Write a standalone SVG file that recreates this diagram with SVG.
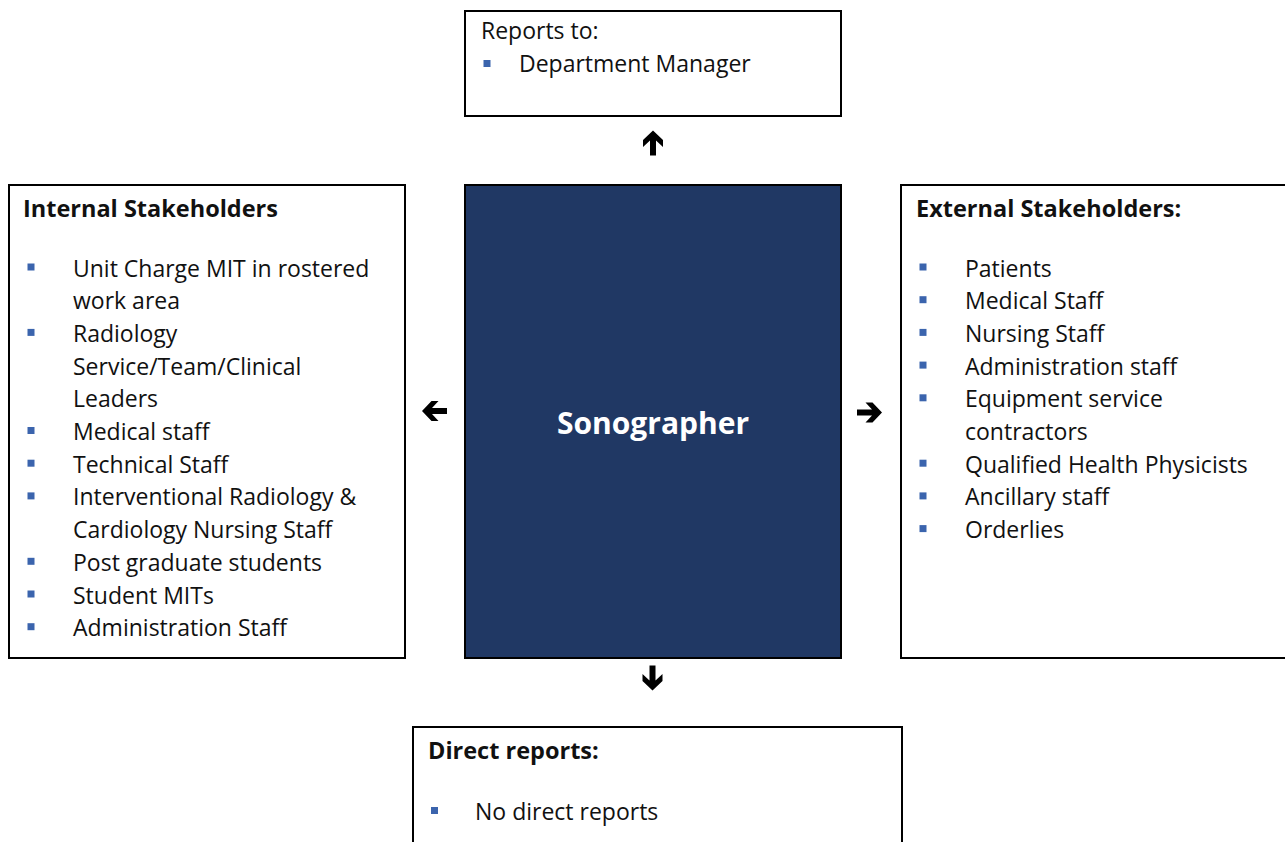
<svg xmlns="http://www.w3.org/2000/svg" width="1285" height="842" viewBox="0 0 1285 842">
  <defs>
    <style>
      .box { fill: #ffffff; stroke: #000000; stroke-width: 2; }
      .core { fill: #203864; stroke: #000000; stroke-width: 2; }
      .txt { font-family: "Open Sans", "Liberation Sans", sans-serif; font-size: 23px; fill: #111111; }
      .ttl { font-family: "Open Sans", "Liberation Sans", sans-serif; font-size: 23.5px; font-weight: bold; fill: #111111; }
      .role { font-family: "Open Sans", "Liberation Sans", sans-serif; font-size: 30px; font-weight: bold; fill: #ffffff; }
      .bul { fill: #3b64ad; }
      .arrow { fill: #000000; }
    </style>
    <!-- bold block arrow pointing right, centred on the origin -->
    <path id="arr" d="M-12.5,-3 H2.5 L-4,-10 H3 L12.5,0 L3,10 H-4 L2.5,3 H-12.5 Z"/>
  </defs>

  <rect width="1285" height="842" fill="#ffffff"/>

  <!-- Reports to -->
  <g id="reports-to">
    <rect class="box" x="465" y="11" width="376" height="105"/>
    <text class="txt" x="481" y="39">Reports to:</text>
    <rect class="bul" x="483.5" y="60" width="7" height="7"/>
    <text class="txt" x="519" y="72">Department Manager</text>
  </g>

  <!-- Internal stakeholders -->
  <g id="internal">
    <rect class="box" x="9" y="185" width="396" height="473"/>
    <text class="ttl" x="23" y="217">Internal Stakeholders</text>
    <g class="bul">
      <rect x="27.5" y="263.5" width="7" height="7"/>
      <rect x="27.5" y="328.9" width="7" height="7"/>
      <rect x="27.5" y="427" width="7" height="7"/>
      <rect x="27.5" y="459.7" width="7" height="7"/>
      <rect x="27.5" y="492.4" width="7" height="7"/>
      <rect x="27.5" y="557.8" width="7" height="7"/>
      <rect x="27.5" y="590.5" width="7" height="7"/>
      <rect x="27.5" y="623.2" width="7" height="7"/>
    </g>
    <text class="txt" x="73" y="276.5">Unit Charge MIT in rostered</text>
    <text class="txt" x="73" y="309.2">work area</text>
    <text class="txt" x="73" y="341.9">Radiology</text>
    <text class="txt" x="73" y="374.6">Service/Team/Clinical</text>
    <text class="txt" x="73" y="407.3">Leaders</text>
    <text class="txt" x="73" y="440">Medical staff</text>
    <text class="txt" x="73" y="472.7">Technical Staff</text>
    <text class="txt" x="73" y="505.4">Interventional Radiology &amp;</text>
    <text class="txt" x="73" y="538.1">Cardiology Nursing Staff</text>
    <text class="txt" x="73" y="570.8">Post graduate students</text>
    <text class="txt" x="73" y="603.5">Student MITs</text>
    <text class="txt" x="73" y="636.2">Administration Staff</text>
  </g>

  <!-- Role -->
  <g id="sonographer">
    <rect class="core" x="465" y="185" width="376" height="473"/>
    <text class="role" x="653" y="434" text-anchor="middle">Sonographer</text>
  </g>

  <!-- External stakeholders -->
  <g id="external">
    <rect class="box" x="901" y="185" width="400" height="473"/>
    <text class="ttl" x="916" y="217">External Stakeholders:</text>
    <g class="bul">
      <rect x="919.5" y="263.5" width="7" height="7"/>
      <rect x="919.5" y="296.2" width="7" height="7"/>
      <rect x="919.5" y="328.9" width="7" height="7"/>
      <rect x="919.5" y="361.6" width="7" height="7"/>
      <rect x="919.5" y="394.3" width="7" height="7"/>
      <rect x="919.5" y="459.7" width="7" height="7"/>
      <rect x="919.5" y="492.4" width="7" height="7"/>
      <rect x="919.5" y="525.1" width="7" height="7"/>
    </g>
    <text class="txt" x="965" y="276.5">Patients</text>
    <text class="txt" x="965" y="309.2">Medical Staff</text>
    <text class="txt" x="965" y="341.9">Nursing Staff</text>
    <text class="txt" x="965" y="374.6">Administration staff</text>
    <text class="txt" x="965" y="407.3">Equipment service</text>
    <text class="txt" x="965" y="440">contractors</text>
    <text class="txt" x="965" y="472.7">Qualified Health Physicists</text>
    <text class="txt" x="965" y="505.4">Ancillary staff</text>
    <text class="txt" x="965" y="538.1">Orderlies</text>
  </g>

  <!-- Direct reports -->
  <g id="direct-reports">
    <rect class="box" x="413" y="727" width="489" height="130"/>
    <text class="ttl" x="428" y="759">Direct reports:</text>
    <rect class="bul" x="431" y="807" width="7" height="7"/>
    <text class="txt" x="475" y="820">No direct reports</text>
  </g>

  <!-- Reporting lines -->
  <g id="connectors" class="arrow">
    <use href="#arr" transform="translate(653,143) rotate(-90)"/>
    <use href="#arr" transform="translate(434.5,411) rotate(180)"/>
    <use href="#arr" transform="translate(869.5,412.5)"/>
    <use href="#arr" transform="translate(652.5,678) rotate(90)"/>
  </g>
</svg>
